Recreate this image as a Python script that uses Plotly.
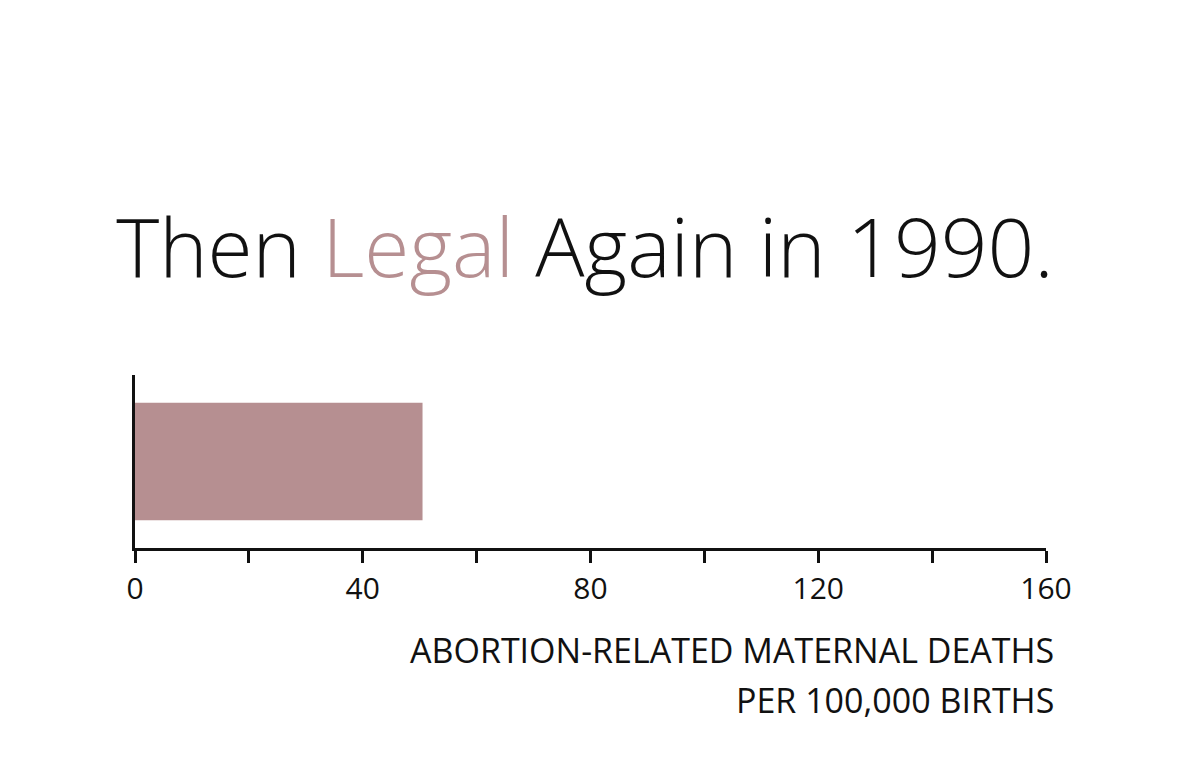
import plotly.graph_objects as go

categories = ["1990"]
values = [50.5]
tick_values = [0, 20, 40, 60, 80, 100, 120, 140, 160]
tick_labels = ["0", "", "40", "", "80", "", "120", "", "160"]
title_parts = ["Then ", "Legal", " Again in 1990."]
axis_title_lines = ["ABORTION-RELATED MATERNAL DEATHS", "PER 100,000 BIRTHS"]

BAR_COLOR = "#b68f91"
INK = "#111111"
FONT = "Open Sans"

# page body has an 8px default margin; compensate
OFF = 8
W, H = 1200 - OFF, 759 - OFF

fig = go.Figure()
fig.add_trace(go.Bar(
    x=values, y=categories, orientation="h",
    marker=dict(color=BAR_COLOR, line=dict(width=0)),
    width=0.68, hoverinfo="skip",
))

x0, x1, y0, y1 = 135 - OFF, 1046 - OFF, 375 - OFF, 548 - OFF
L, R, T, B = x0, W - x1, y0, H - y1
ph = y1 - y0
pw = x1 - x0

fig.update_layout(
    width=W, height=H,
    margin=dict(l=L, r=R, t=T, b=B),
    paper_bgcolor="white", plot_bgcolor="white",
    showlegend=False,
    title=dict(
        text=f"{title_parts[0]}<span style='color:{BAR_COLOR}'>{title_parts[1]}</span>{title_parts[2]}",
        x=(585 - OFF) / W, xanchor="center", xref="container",
        y=1 - (248 - OFF) / H, yanchor="middle", yref="container",
        font=dict(family=FONT, size=82, color=INK, weight=300),
    ),
    xaxis=dict(
        range=[0, 160], tickmode="array", tickvals=tick_values, ticktext=tick_labels,
        showgrid=False, zeroline=False, showline=True, linecolor=INK, linewidth=3,
        ticks="outside", ticklen=12, tickwidth=2.5, tickcolor=INK,
        tickfont=dict(family=FONT, size=30, color=INK, weight=400),
        fixedrange=True,
    ),
    yaxis=dict(
        range=[-0.5, 0.5], showticklabels=False, showgrid=False, zeroline=False,
        showline=True, linecolor=INK, linewidth=3, ticks="", fixedrange=True,
    ),
)

for line, ypx in zip(axis_title_lines, [650, 700]):
    fig.add_annotation(
        text=line, xref="paper", yref="paper",
        x=1 + 10 / pw, xanchor="right",
        y=-(ypx - 548) / ph, yanchor="middle",
        showarrow=False,
        font=dict(family=FONT, size=34, color=INK, weight=400),
    )

fig.write_html("out.html")
